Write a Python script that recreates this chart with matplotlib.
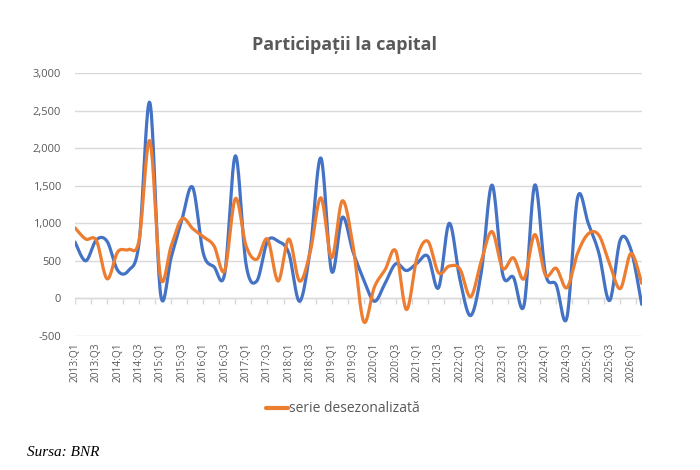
import numpy as np
import matplotlib
matplotlib.use('Agg')
import matplotlib.pyplot as plt


# quarterly labels 2013:Q1 .. 2026:Q2
quarters = [f'{y}:Q{q}' for y in range(2013, 2027) for q in range(1, 5)][:54]

# serie bruta (blue)
blue = [750, 500, 780, 760, 370, 370, 750, 2610, 60, 550,
        1050, 1480, 600, 420, 330, 1900, 450, 230, 760, 760,
        600, -40, 650, 1870, 360, 1080, 620, 250, -40, 200,
        460, 370, 470, 560, 140, 1000, 250, -230, 350, 1510,
        320, 280, -90, 1510, 330, 180, -260, 1340, 1000, 600,
        -30, 780, 645, -80]

# serie desezonalizata (orange)
orange = [940, 790, 770, 260, 620, 650, 780, 2100, 280, 700,
          1060, 930, 820, 700, 370, 1330, 700, 520, 790, 230,
          790, 230, 620, 1340, 540, 1300, 700, -310, 150, 380,
          630, -150, 550, 760, 340, 430, 390, 20, 500, 890,
          400, 540, 260, 850, 310, 400, 140, 600, 860, 840,
          460, 130, 600, 200]

GRAY = '#595959'
GRID = '#d9d9d9'


# excel-like smoothed line (bezier through the points)
def smooth(x, y, n=20):
    x = np.asarray(x, float)
    y = np.asarray(y, float)
    px = np.concatenate([[x[0]], x, [x[-1]]])
    py = np.concatenate([[y[0]], y, [y[-1]]])
    xs, ys = [], []
    t = np.linspace(0, 1, n, endpoint=False)
    for i in range(1, len(px) - 2):
        p0 = np.array([px[i], py[i]])
        p3 = np.array([px[i + 1], py[i + 1]])
        c1 = p0 + (np.array([px[i + 1], py[i + 1]]) - np.array([px[i - 1], py[i - 1]])) / 6
        c2 = p3 - (np.array([px[i + 2], py[i + 2]]) - np.array([px[i], py[i]])) / 6
        b = ((1 - t) ** 3)[:, None] * p0 + (3 * (1 - t) ** 2 * t)[:, None] * c1 \
            + (3 * (1 - t) * t ** 2)[:, None] * c2 + (t ** 3)[:, None] * p3
        xs.append(b[:, 0])
        ys.append(b[:, 1])
    xs.append([x[-1]])
    ys.append([y[-1]])
    return np.concatenate(xs), np.concatenate(ys)


plt.rcParams['font.family'] = ['Open Sans', 'DejaVu Sans']

fig = plt.figure(figsize=(7, 4.7), dpi=100)
ax = fig.add_axes([75 / 700, 1 - 335.8 / 470, 566.7 / 700, 262.5 / 470])

x = np.arange(len(quarters))
bx, by = smooth(x, blue)
ox, oy = smooth(x, orange)
ax.plot(bx, by, color='#4472C4', lw=2.3, solid_capstyle='round', zorder=3)
line_o, = ax.plot(ox, oy, color='#ED7D31', lw=2.3, solid_capstyle='round', zorder=4,
                  label='serie desezonalizată')

ax.set_xlim(0, len(quarters) - 1)
ax.set_ylim(-500, 3000)
ax.set_yticks(np.arange(-500, 3001, 500))
ax.set_yticklabels([f'{v:,}' for v in range(-500, 3001, 500)])
ax.yaxis.grid(True, color=GRID, lw=1)
ax.set_axisbelow(True)
for s in ax.spines.values():
    s.set_visible(False)
ax.tick_params(axis='y', length=0, pad=10, labelsize=8, labelcolor=GRAY)

# category labels every 2 quarters, hanging below the plot
ax.set_xticks(x[::2])
ax.set_xticklabels(quarters[::2], rotation=90, fontsize=7.3, color=GRAY)
ax.tick_params(axis='x', length=0, pad=5)

# axis line at zero with small tick marks
ax.axhline(0, color=GRID, lw=1, zorder=1)
ax.vlines(np.arange(0, len(quarters), 1.5), -70, 0, color=GRID, lw=1, zorder=1)

fig.text(345 / 700, 1 - 45 / 470, 'Participații la capital', ha='center', va='center',
         fontsize=13, fontweight='bold', color=GRAY)

leg = fig.legend(handles=[line_o], loc='center', bbox_to_anchor=(343 / 700, 1 - 409 / 470),
                 frameon=False, fontsize=10, handlelength=1.6, handletextpad=0.1)
for t in leg.get_texts():
    t.set_color(GRAY)
leg.get_lines()[0].set_linewidth(3)

fig.text(27 / 700, 1 - 452 / 470, 'Sursa: BNR', ha='left', va='center', fontsize=11,
         style='italic', family='Liberation Serif', color='black')

fig.savefig('out.png', dpi=100)
